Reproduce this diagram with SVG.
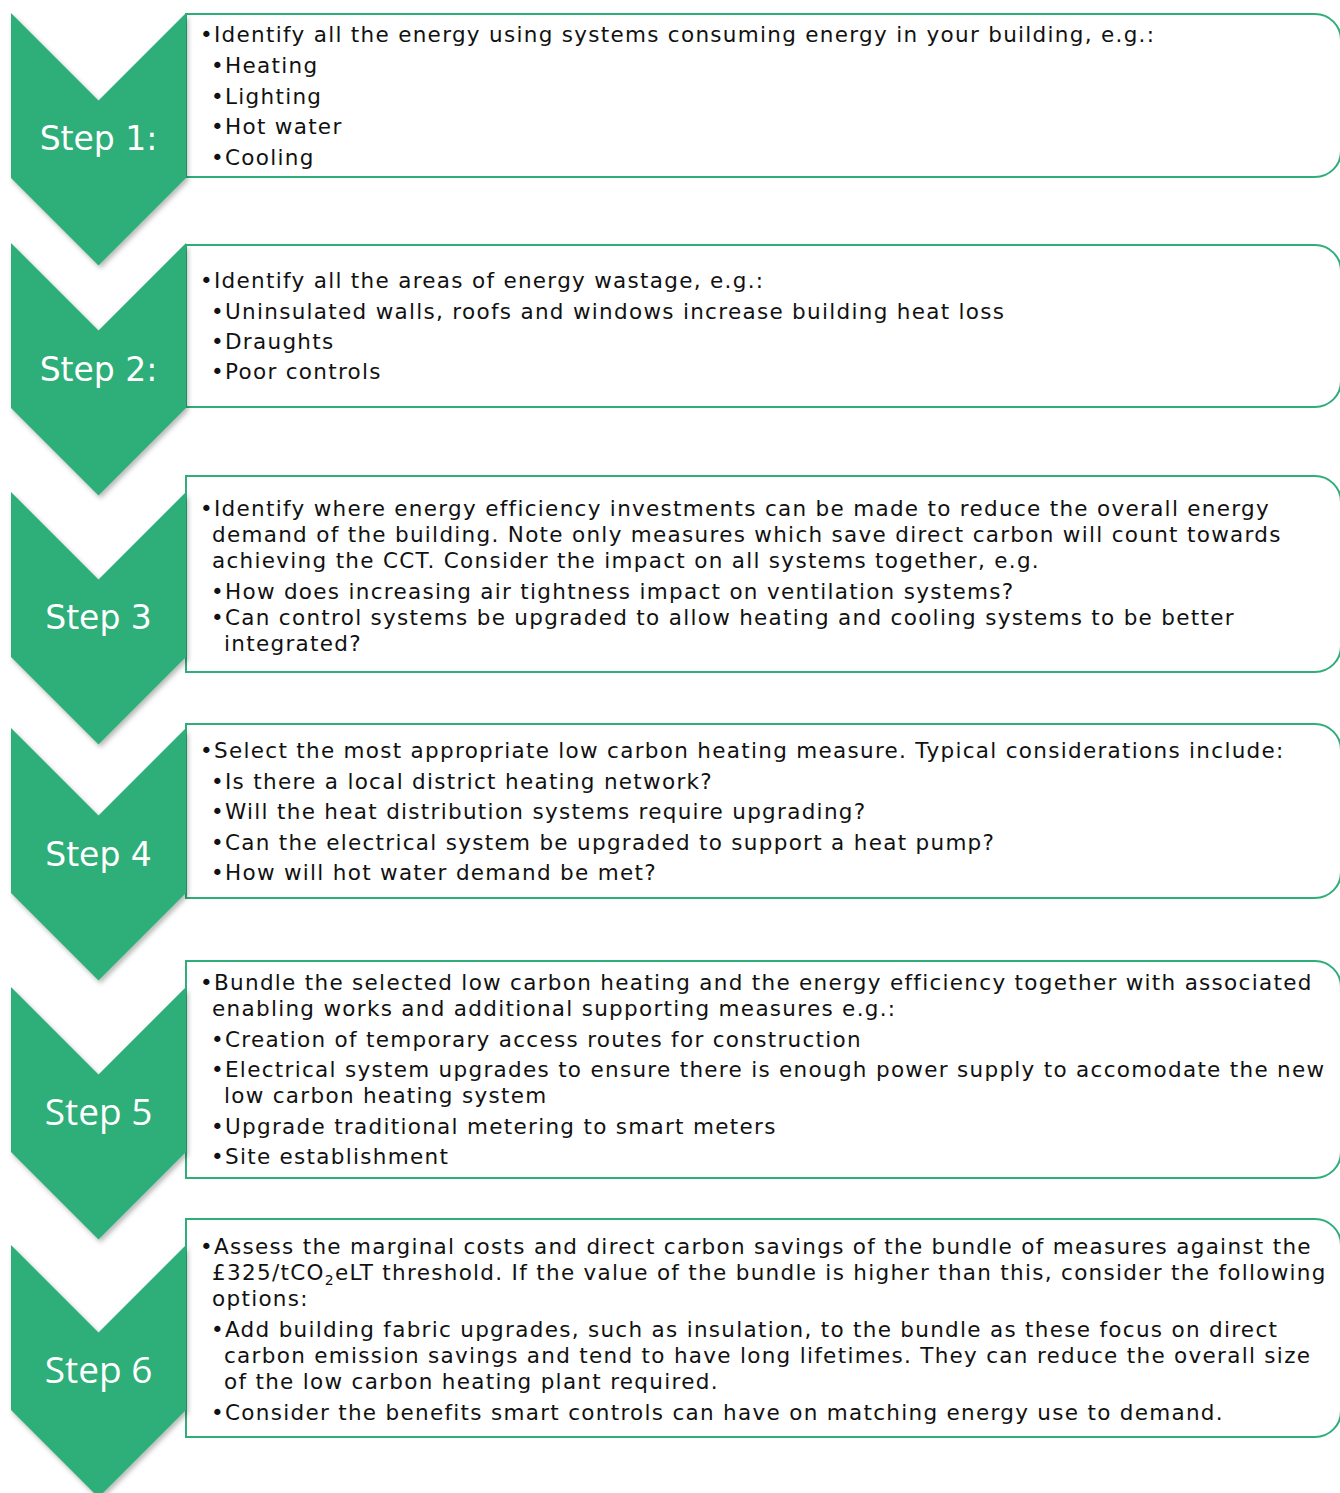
<svg xmlns="http://www.w3.org/2000/svg" width="1340" height="1493" viewBox="0 0 1340 1493">
  <defs>
    <filter id="shadow" x="-10%" y="-10%" width="130%" height="130%">
      <feDropShadow dx="2" dy="3" stdDeviation="2.5" flood-color="#000" flood-opacity="0.28"/>
    </filter>
  </defs>
  <style>
    .chev { fill: #2EAE78; filter: url(#shadow); }
    .box { fill: #FFFFFF; stroke: #2EAE78; stroke-width: 2; }
    .label { fill: #FFFFFF; font-family: "DejaVu Sans", Verdana, sans-serif; font-size: 33px; text-anchor: middle; }
    .label2 { fill: #FFFFFF; font-family: "Open Sans", "Segoe UI", sans-serif; font-size: 37px; text-anchor: middle; }
    .txt { fill: #111111; font-family: "DejaVu Sans", Verdana, sans-serif; font-size: 21.5px; letter-spacing: 1.3px; }
    .sub { font-size: 14px; }
  </style>

  <!-- Step 1 -->
  <g id="step1">
    <path class="box" d="M186,14 H1315 A26,26 0 0 1 1341,40 V151 A26,26 0 0 1 1315,177 H186 Z"/>
    <path class="chev" d="M11,13 L98.5,100.5 L186,13 L186,178 L98.5,265.5 L11,178 Z"/>
    <text class="label" x="98.5" y="150">Step 1:</text>
    <text class="txt" x="200" y="42">•Identify all the energy using systems consuming energy in your building, e.g.:</text>
    <text class="txt" x="211" y="73">•Heating</text>
    <text class="txt" x="211" y="104">•Lighting</text>
    <text class="txt" x="211" y="134">•Hot water</text>
    <text class="txt" x="211" y="165">•Cooling</text>
  </g>

  <!-- Step 2 -->
  <g id="step2">
    <path class="box" d="M186,245 H1315 A26,26 0 0 1 1341,271 V381 A26,26 0 0 1 1315,407 H186 Z"/>
    <path class="chev" d="M11,243 L98.5,330.5 L186,243 L186,408 L98.5,495.5 L11,408 Z"/>
    <text class="label" x="98.5" y="381">Step 2:</text>
    <text class="txt" x="200" y="288">•Identify all the areas of energy wastage, e.g.:</text>
    <text class="txt" x="211" y="319">•Uninsulated walls, roofs and windows increase building heat loss</text>
    <text class="txt" x="211" y="349">•Draughts</text>
    <text class="txt" x="211" y="379">•Poor controls</text>
  </g>

  <!-- Step 3 -->
  <g id="step3">
    <path class="box" d="M186,476 H1315 A26,26 0 0 1 1341,502 V646 A26,26 0 0 1 1315,672 H186 Z"/>
    <path class="chev" d="M11,492 L98.5,579.5 L186,492 L186,657 L98.5,744.5 L11,657 Z"/>
    <text class="label" x="98.5" y="629">Step 3</text>
    <text class="txt" x="200" y="516">•Identify where energy efficiency investments can be made to reduce the overall energy</text>
    <text class="txt" x="212" y="542">demand of the building. Note only measures which save direct carbon will count towards</text>
    <text class="txt" x="212" y="568">achieving the CCT. Consider the impact on all systems together, e.g.</text>
    <text class="txt" x="211" y="599">•How does increasing air tightness impact on ventilation systems?</text>
    <text class="txt" x="211" y="625">•Can control systems be upgraded to allow heating and cooling systems to be better</text>
    <text class="txt" x="224" y="651">integrated?</text>
  </g>

  <!-- Step 4 -->
  <g id="step4">
    <path class="box" d="M186,724 H1315 A26,26 0 0 1 1341,750 V872 A26,26 0 0 1 1315,898 H186 Z"/>
    <path class="chev" d="M11,728 L98.5,815.5 L186,728 L186,893 L98.5,980.5 L11,893 Z"/>
    <text class="label" x="98.5" y="866">Step 4</text>
    <text class="txt" x="200" y="758">•Select the most appropriate low carbon heating measure. Typical considerations include:</text>
    <text class="txt" x="211" y="789">•Is there a local district heating network?</text>
    <text class="txt" x="211" y="819">•Will the heat distribution systems require upgrading?</text>
    <text class="txt" x="211" y="850">•Can the electrical system be upgraded to support a heat pump?</text>
    <text class="txt" x="211" y="880">•How will hot water demand be met?</text>
  </g>

  <!-- Step 5 -->
  <g id="step5">
    <path class="box" d="M186,961 H1315 A26,26 0 0 1 1341,987 V1152 A26,26 0 0 1 1315,1178 H186 Z"/>
    <path class="chev" d="M11,987 L98.5,1074.5 L186,987 L186,1152 L98.5,1239.5 L11,1152 Z"/>
    <text class="label2" x="98.5" y="1125">Step 5</text>
    <text class="txt" x="200" y="990">•Bundle the selected low carbon heating and the energy efficiency together with associated</text>
    <text class="txt" x="212" y="1016">enabling works and additional supporting measures e.g.:</text>
    <text class="txt" x="211" y="1047">•Creation of temporary access routes for construction</text>
    <text class="txt" x="211" y="1077">•Electrical system upgrades to ensure there is enough power supply to accomodate the new</text>
    <text class="txt" x="224" y="1103">low carbon heating system</text>
    <text class="txt" x="211" y="1134">•Upgrade traditional metering to smart meters</text>
    <text class="txt" x="211" y="1164">•Site establishment</text>
  </g>

  <!-- Step 6 -->
  <g id="step6">
    <path class="box" d="M186,1219 H1315 A26,26 0 0 1 1341,1245 V1411 A26,26 0 0 1 1315,1437 H186 Z"/>
    <path class="chev" d="M11,1245 L98.5,1332.5 L186,1245 L186,1410 L98.5,1497.5 L11,1410 Z"/>
    <text class="label2" x="98.5" y="1383">Step 6</text>
    <text class="txt" x="200" y="1254">•Assess the marginal costs and direct carbon savings of the bundle of measures against the</text>
    <text class="txt" x="212" y="1280">£325/tCO<tspan class="sub" dy="5">2</tspan><tspan dy="-5">eLT threshold. If the value of the bundle is higher than this, consider the following</tspan></text>
    <text class="txt" x="212" y="1306">options:</text>
    <text class="txt" x="211" y="1337">•Add building fabric upgrades, such as insulation, to the bundle as these focus on direct</text>
    <text class="txt" x="224" y="1363">carbon emission savings and tend to have long lifetimes. They can reduce the overall size</text>
    <text class="txt" x="224" y="1389">of the low carbon heating plant required.</text>
    <text class="txt" x="211" y="1420">•Consider the benefits smart controls can have on matching energy use to demand.</text>
  </g>
</svg>
